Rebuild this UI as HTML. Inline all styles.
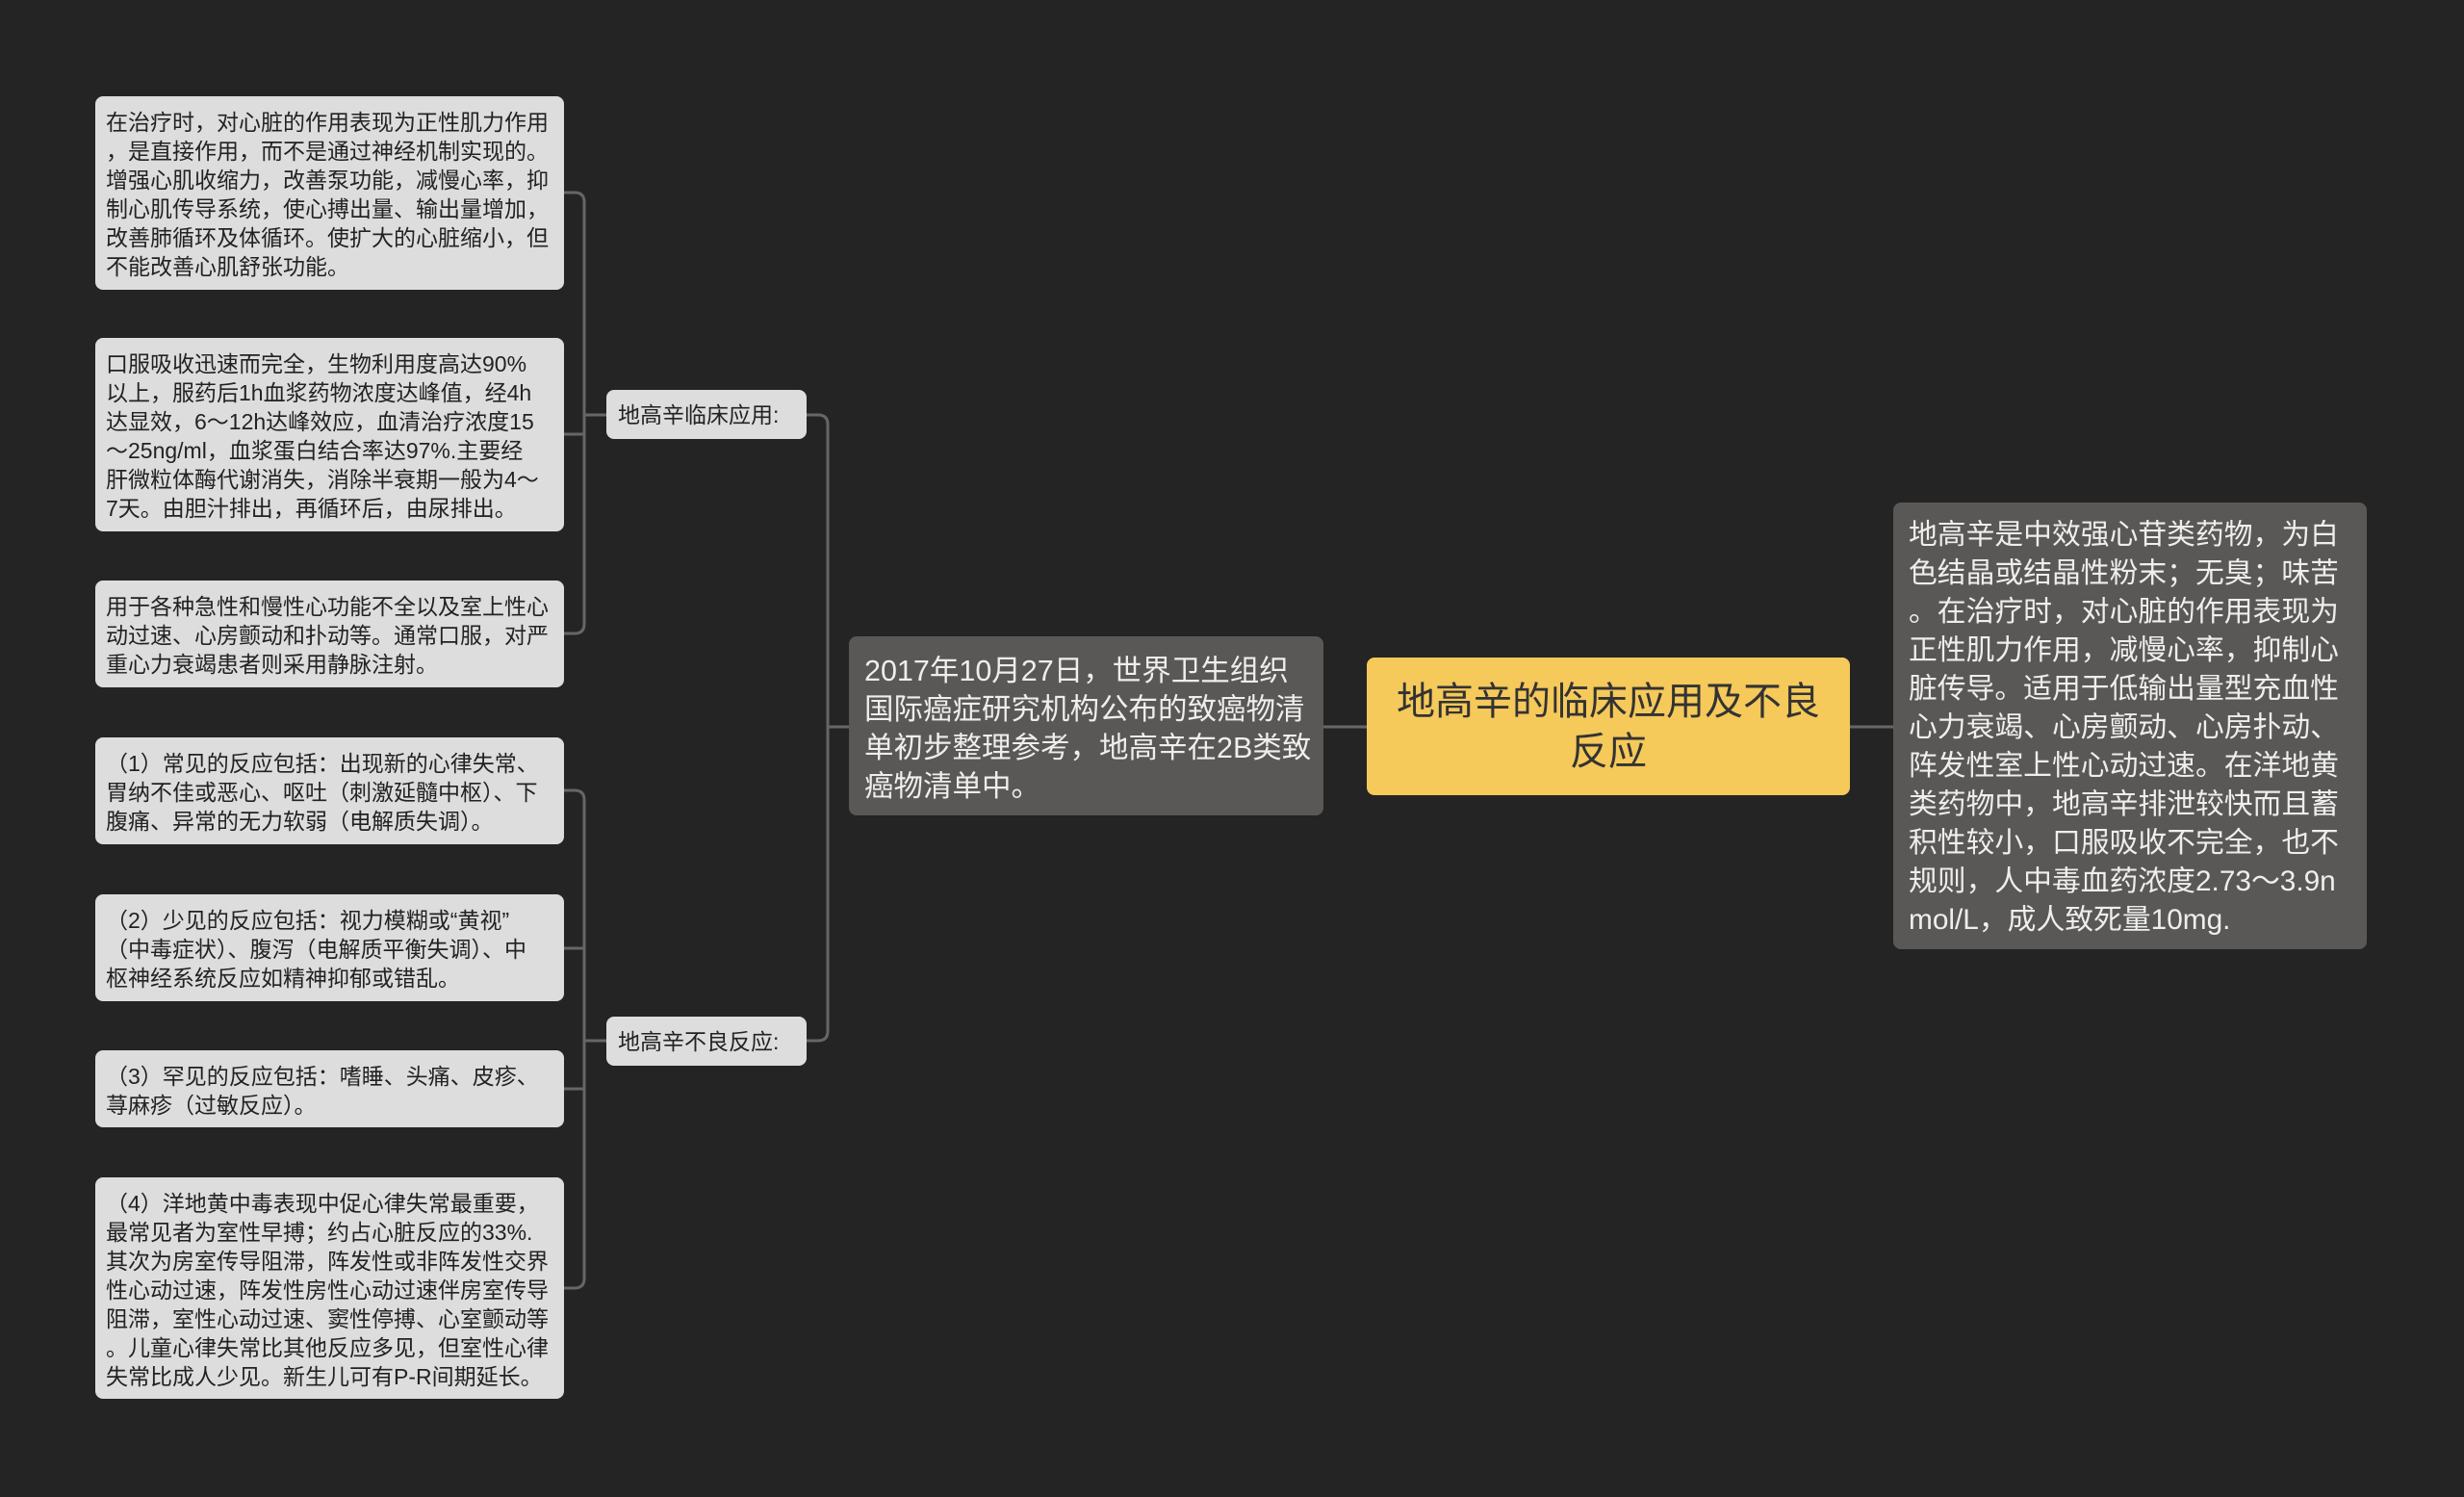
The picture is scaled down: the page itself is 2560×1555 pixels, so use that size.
<!DOCTYPE html>
<html><head><meta charset="utf-8"><style>
*{margin:0;padding:0;box-sizing:border-box}
body{width:2560px;height:1555px;background:#242424;position:relative;overflow:hidden;font-family:"Liberation Sans","Noto Sans CJK SC",sans-serif}
.n{position:absolute;border-radius:8px;white-space:nowrap}
.leaf{background:#dddddd;color:#222;font-size:23px;line-height:30px;left:99px;width:487px;padding:12px 11px}
.br{background:#dddddd;color:#222;font-size:23px;line-height:53px;left:630px;width:208px;height:51px;padding-left:12px}
svg{position:absolute;left:0;top:0}
</style></head><body>
<svg width="2560" height="1555"><g fill="none" stroke="#666" stroke-width="3">
<path d="M586,200 H597 Q607,200 607,210 V648 Q607,658 597,658 H586"/>
<path d="M586,451 H607 M607,431 H630"/>
<path d="M586,821 H597 Q607,821 607,831 V1328 Q607,1338 597,1338 H586"/>
<path d="M586,985 H607 M586,1131 H607 M607,1081 H630"/>
<path d="M838,431 H850 Q860,431 860,441 V1071 Q860,1081 850,1081 H838"/>
<path d="M860,755 H882 M1375,755 H1420 M1922,755 H1967"/>
</g></svg>
<div class="n leaf" style="top:100px;height:201px">在治疗时，对心脏的作用表现为正性肌力作用<br>，是直接作用，而不是通过神经机制实现的。<br>增强心肌收缩力，改善泵功能，减慢心率，抑<br>制心肌传导系统，使心搏出量、输出量增加，<br>改善肺循环及体循环。使扩大的心脏缩小，但<br>不能改善心肌舒张功能。</div>
<div class="n leaf" style="top:351px;height:201px">口服吸收迅速而完全，生物利用度高达90%<br>以上，服药后1h血浆药物浓度达峰值，经4h<br>达显效，6～12h达峰效应，血清治疗浓度15<br>～25ng/ml，血浆蛋白结合率达97%.主要经<br>肝微粒体酶代谢消失，消除半衰期一般为4～<br>7天。由胆汁排出，再循环后，由尿排出。</div>
<div class="n leaf" style="top:603px;height:111px">用于各种急性和慢性心功能不全以及室上性心<br>动过速、心房颤动和扑动等。通常口服，对严<br>重心力衰竭患者则采用静脉注射。</div>
<div class="n leaf" style="top:766px;height:111px">（1）常见的反应包括：出现新的心律失常、<br>胃纳不佳或恶心、呕吐（刺激延髓中枢）、下<br>腹痛、异常的无力软弱（电解质失调）。</div>
<div class="n leaf" style="top:929px;height:111px">（2）少见的反应包括：视力模糊或“黄视”<br>（中毒症状）、腹泻（电解质平衡失调）、中<br>枢神经系统反应如精神抑郁或错乱。</div>
<div class="n leaf" style="top:1091px;height:80px">（3）罕见的反应包括：嗜睡、头痛、皮疹、<br>荨麻疹（过敏反应）。</div>
<div class="n leaf" style="top:1223px;height:230px">（4）洋地黄中毒表现中促心律失常最重要，<br>最常见者为室性早搏；约占心脏反应的33%.<br>其次为房室传导阻滞，阵发性或非阵发性交界<br>性心动过速，阵发性房性心动过速伴房室传导<br>阻滞，室性心动过速、窦性停搏、心室颤动等<br>。儿童心律失常比其他反应多见，但室性心律<br>失常比成人少见。新生儿可有P-R间期延长。</div>
<div class="n br" style="top:405px">地高辛临床应用:</div>
<div class="n br" style="top:1056px">地高辛不良反应:</div>
<div class="n" style="left:882px;top:661px;width:493px;height:186px;background:#5a5856;color:#eee;font-size:30.5px;line-height:40px;padding:16px 16px">2017年10月27日，世界卫生组织<br>国际癌症研究机构公布的致癌物清<br>单初步整理参考，地高辛在2B类致<br>癌物清单中。</div>
<div class="n" style="left:1420px;top:683px;width:502px;height:143px;background:#f5c95a;color:#333;font-size:40px;line-height:52px;text-align:center;padding-top:20px">地高辛的临床应用及不良<br>反应</div>
<div class="n" style="left:1967px;top:522px;width:492px;height:464px;background:#5a5856;color:#eee;font-size:29.8px;line-height:40px;padding:14px 16px">地高辛是中效强心苷类药物，为白<br>色结晶或结晶性粉末；无臭；味苦<br>。在治疗时，对心脏的作用表现为<br>正性肌力作用，减慢心率，抑制心<br>脏传导。适用于低输出量型充血性<br>心力衰竭、心房颤动、心房扑动、<br>阵发性室上性心动过速。在洋地黄<br>类药物中，地高辛排泄较快而且蓄<br>积性较小，口服吸收不完全，也不<br>规则，人中毒血药浓度2.73～3.9n<br>mol/L，成人致死量10mg.</div>
</body></html>
